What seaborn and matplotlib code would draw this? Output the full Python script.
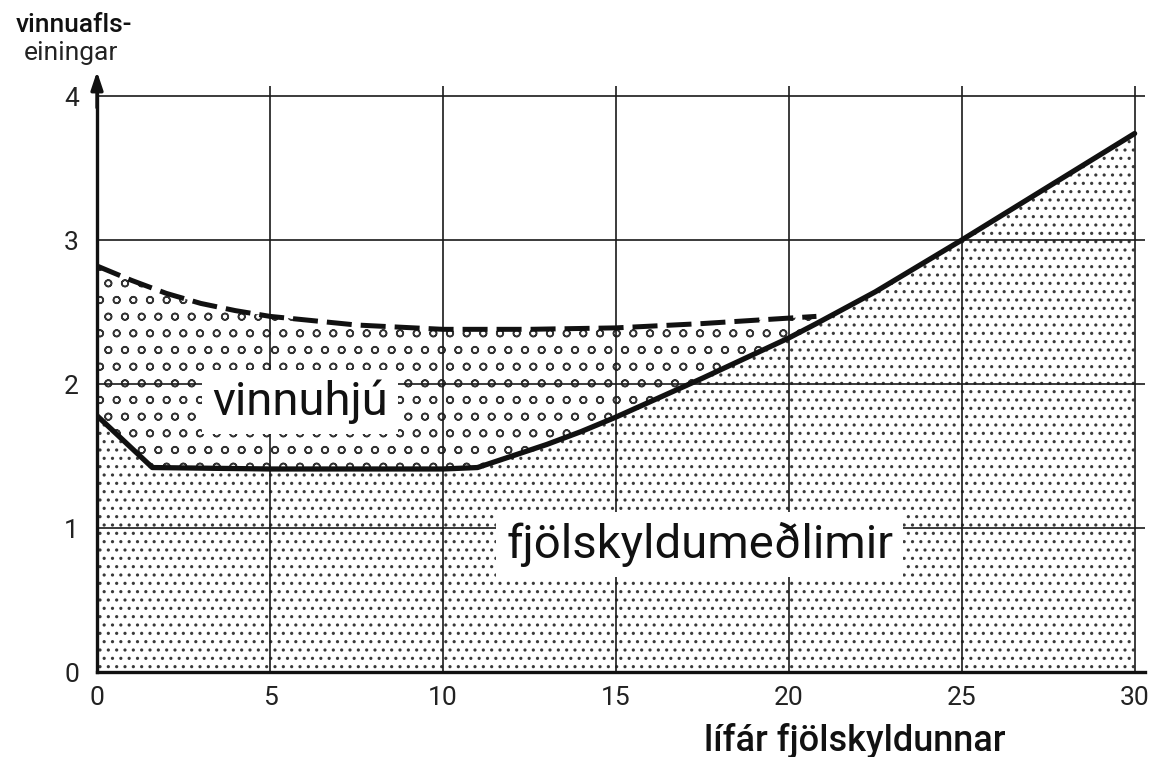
import numpy as np
import pandas as pd
import matplotlib
matplotlib.use("Agg")
import matplotlib.pyplot as plt
import seaborn as sns

# ---- data ----
solid_x = [0, 1.6, 5, 10, 11.0, 12, 13, 14, 15, 17.5, 20, 20.8, 22.5, 25, 27.5, 30]
solid_y = [1.78, 1.42, 1.41, 1.41, 1.42, 1.50, 1.58, 1.67, 1.77, 2.04, 2.32, 2.42, 2.64, 3.00, 3.37, 3.74]

dash_x = [0, 1, 2, 3, 4, 5, 7.5, 10, 12.5, 15, 17.5, 20.8]
dash_y = [2.82, 2.72, 2.63, 2.56, 2.51, 2.47, 2.41, 2.38, 2.38, 2.39, 2.42, 2.47]

x_ticks = [0, 5, 10, 15, 20, 25, 30]
y_ticks = [0, 1, 2, 3, 4]

label_lower = "fjölskyldumeðlimir"
label_upper = "vinnuhjú"
x_title = "lífár fjölskyldunnar"
y_title = ["vinnuafls-", "einingar"]

sns.set_theme(style="white")
FONT = ["Roboto", "DejaVu Sans"]
plt.rcParams["font.family"] = FONT
plt.rcParams["hatch.linewidth"] = 1.1

W, H = 1156, 757
fig = plt.figure(figsize=(W / 100, H / 100), dpi=100)
ax = fig.add_axes([97 / W, 85 / H, 1048 / W, 586 / H])
ax.set_xlim(0, 30.3)
ax.set_ylim(0, 4.07)

solid = pd.DataFrame({"x": solid_x, "y": solid_y})
dashed = pd.DataFrame({"x": dash_x, "y": dash_y})

# lower region: family members
ax.fill_between(solid["x"], 0, solid["y"], facecolor="white", edgecolor="#3a3a3a",
                hatch="..", linewidth=0, zorder=1)
# upper region: farmhands (between dashed and solid)
sx = np.array(solid_x)
sy = np.array(solid_y)
mask = sx <= dash_x[-1]
poly_x = np.concatenate([dash_x, sx[mask][::-1]])
poly_y = np.concatenate([dash_y, sy[mask][::-1]])
ax.fill(poly_x, poly_y, facecolor="white", edgecolor="#333333", hatch="o",
        linewidth=0, zorder=1)

# grid
for xv in x_ticks[1:]:
    ax.axvline(xv, color="#1a1a1a", lw=1.2, zorder=2)
for yv in y_ticks[1:]:
    ax.axhline(yv, color="#1a1a1a", lw=1.2, zorder=2)

sns.lineplot(data=solid, x="x", y="y", ax=ax, color="#111111", lw=3.8,
             zorder=4, sort=False)
sns.lineplot(data=dashed, x="x", y="y", ax=ax, color="#111111", lw=3.6,
             zorder=4, sort=False).lines[-1].set_dashes((5, 1.8))

for s in ["top", "right"]:
    ax.spines[s].set_visible(False)
for s in ["left", "bottom"]:
    ax.spines[s].set_linewidth(2.4)
    ax.spines[s].set_color("#111111")
    ax.spines[s].set_zorder(5)

ax.set_xticks(x_ticks)
ax.set_yticks(y_ticks)
ax.set_xticklabels([str(v) for v in x_ticks])
ax.set_yticklabels([str(v) for v in y_ticks])
ax.tick_params(axis="both", direction="out", length=7, width=1.6, color="#111111",
               labelsize=19, labelcolor="#222222", pad=3)
ax.tick_params(axis="y", pad=6)
ax.set_xlabel("")
ax.set_ylabel("")

# arrow on y axis
ax.annotate("", xy=(0, 4.19), xytext=(0, 3.9),
            arrowprops=dict(arrowstyle="-|>,head_length=0.9,head_width=0.3",
                            color="#111111", lw=2.4),
            annotation_clip=False, zorder=6)

box = dict(facecolor="white", edgecolor="none", pad=7)
ax.text(5.87, 1.785, label_upper, ha="center", va="baseline", fontsize=34,
        color="#111111", bbox=box, zorder=6)
ax.text(17.43, 0.79, label_lower, ha="center", va="baseline", fontsize=34,
        color="#111111", bbox=box, zorder=6)

fig.text(855 / W, 1 - 751 / H, x_title, ha="center", va="baseline",
         fontsize=26, color="#111111", fontweight="medium")
fig.text(74 / W, 1 - 32 / H, y_title[0], ha="center", va="baseline",
         fontsize=19, color="#111111", fontweight="medium")
fig.text(71 / W, 1 - 60 / H, y_title[1], ha="center", va="baseline",
         fontsize=19, color="#222222")

fig.savefig("out.png", dpi=100)
